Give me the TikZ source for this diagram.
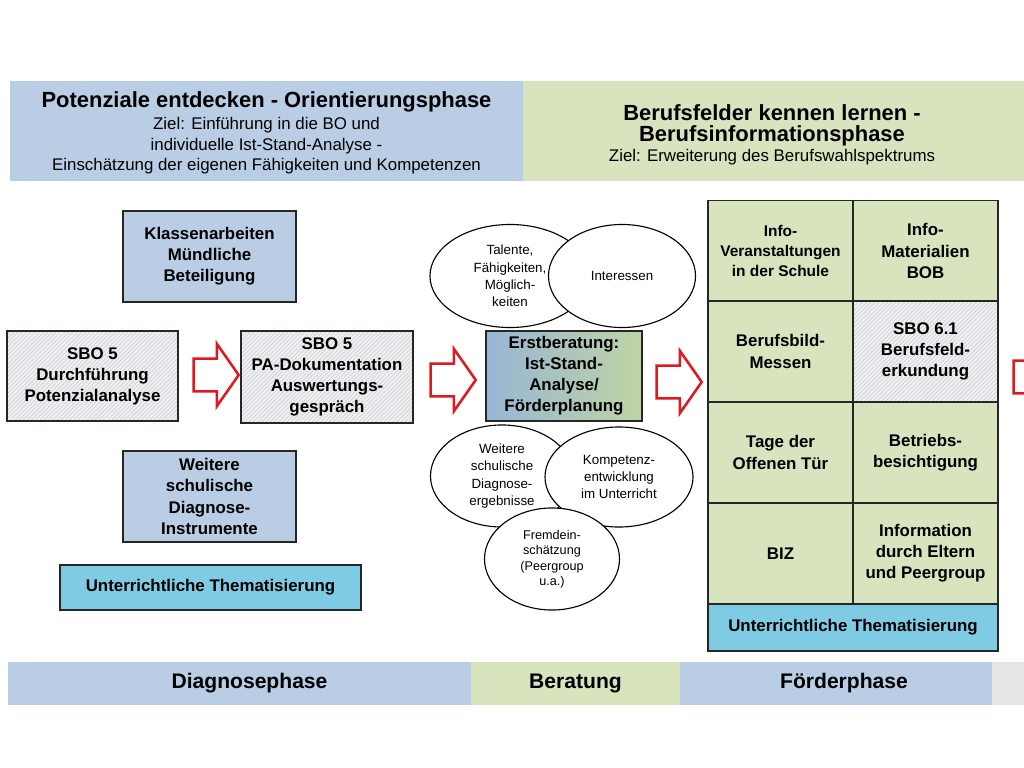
\documentclass[tikz,border=0pt]{standalone}
\usepackage{fontspec}
\setmainfont{Liberation Sans}
\usepackage{xcolor}
\usetikzlibrary{positioning,shapes.geometric,shapes.arrows,patterns}
\definecolor{phaseblue}{HTML}{B9CDE5}
\definecolor{phasegreen}{HTML}{D7E4BD}
\definecolor{skyblue}{HTML}{7FCBE4}
\definecolor{hatchbg}{HTML}{EEF1F4}
\definecolor{arrowred}{HTML}{E0181F}
\definecolor{lightbar}{HTML}{E6E6E6}
\definecolor{gradblue}{HTML}{98B5D5}
\definecolor{gradgreen}{HTML}{BFD4A5}
\newcommand{\bigbf}{\bfseries\fontsize{15.6}{18}\selectfont}
\tikzset{
  box/.style     ={draw=black!85,line width=1pt,align=center,inner sep=2pt,
                   font=\bfseries\fontsize{12}{15}\selectfont},
  bluebox/.style ={box,fill=phaseblue},
  hatchbox/.style={box,preaction={fill=hatchbg},pattern=north east lines,pattern color=gray!40},
  thema/.style   ={box,fill=skyblue},
  cell/.style    ={box,fill=phasegreen,minimum width=3.625cm,minimum height=2.525cm},
  bubble/.style  ={ellipse,draw=black,line width=0.8pt,fill=white,align=center,inner sep=0pt,
                   font=\fontsize{9.5}{12.4}\selectfont},
  fatarrow/.style={single arrow,draw=arrowred,line width=1.8pt,fill=white,inner xsep=0pt,
                   inner ysep=0.375cm,single arrow head extend=0.375cm,single arrow tip angle=110,
                   minimum height=1.125cm},
  band/.style    ={inner sep=0pt,align=center,minimum height=1.075cm,
                   font=\bfseries\fontsize{15}{18}\selectfont},
}

\begin{document}
\begin{tikzpicture}[x=0.025cm,y=-0.025cm]
  \useasboundingbox[fill=white] (0,0) rectangle (1024,768);
  \clip (0,0) rectangle (1024,768);

  % phase headers
  \node[fill=phaseblue,minimum width=12.825cm,minimum height=2.5cm,inner sep=0pt] (hleft) at (266.5,131) {};
  \node[align=center,font=\fontsize{12}{13.5}\selectfont] (hlefttxt) at (266.5,133)
       {{\bigbf Potenziale entdecken - Orientierungsphase}\\[2pt]
        Ziel: Einführung in die BO und\\[1pt]individuelle Ist-Stand-Analyse -\\[1pt]
        Einschätzung der eigenen Fähigkeiten und Kompetenzen};
  \node[fill=phasegreen,minimum width=12.525cm,minimum height=2.5cm,inner sep=0pt] (hright) at (773.5,131) {};
  \node[align=center,font=\fontsize{12}{13.5}\selectfont] (hrighttxt) at (772,135)
       {{\bigbf Berufsfelder kennen lernen -}\\[1pt]{\bigbf Berufsinformationsphase}\\[1pt]
        Ziel: Erweiterung des Berufswahlspektrums};

  % diagnose column
  \node[bluebox,minimum width=4.325cm,minimum height=2.275cm] (klasse) at (209.5,256.5)
       {Klassenarbeiten\\Mündliche\\Beteiligung};
  \node[hatchbox,minimum width=4.275cm,minimum height=2.25cm] (sbo5) at (92.5,376)
       {SBO 5\\Durchführung\\Potenzialanalyse};
  \node[hatchbox,minimum width=4.3cm,minimum height=2.3cm] (padoku) at (327,377)
       {SBO 5\\PA-Dokumentation\\Auswertungs-\\gespräch};
  \node[bluebox,minimum width=4.325cm,minimum height=2.275cm] (weitere) at (209.5,496.5)
       {Weitere\\schulische\\Diagnose-\\Instrumente};
  \node[thema,minimum width=7.525cm,minimum height=1.125cm] (themaL) at (210.5,587.5)
       {Unterrichtliche Thematisierung};

  % beratung
  \node[bubble,minimum width=4cm,minimum height=2.575cm] (talente) at (510,276)
       {Talente,\\Fähigkeiten,\\Möglich-\\keiten};
  \node[bubble,minimum width=3.675cm,minimum height=2.575cm] (interessen) at (622,276)
       {Interessen};
  \node[box,left color=gradblue,right color=gradgreen,
        minimum width=3.9cm,minimum height=2.25cm] (erst) at (564,376)
       {Erstberatung:\\Ist-Stand-\\Analyse/\\Förderplanung};
  \node[bubble,minimum width=3.575cm,minimum height=2.55cm] (diagerg) at (502,476)
       {Weitere\\schulische\\Diagnose-\\ergebnisse};
  \node[bubble,minimum width=3.7cm,minimum height=2.5cm] (kompetenz) at (619,477)
       {Kompetenz-\\entwicklung\\im Unterricht};
  \node[bubble,minimum width=3.375cm,minimum height=2.55cm,font=\fontsize{9}{11}\selectfont] (fremd) at (552,559)
       {Fremdein-\\schätzung\\(Peergroup\\u.a.)};

  % red block arrows
  \node[fatarrow] (arrA) at (210.5,375) {};
  \node[fatarrow] (arrB) at (447.5,380) {};
  \node[fatarrow] (arrC) at (673.5,382) {};
  \node[fatarrow] (arrD) at (1030.5,377) {};

  % foerder grid
  \node[cell,font=\bfseries\fontsize{11}{14.5}\selectfont] (infoV) at (780.5,251)
       {Info-\\Veranstaltungen\\in der Schule};
  \node[cell] (infoM) at (925.5,251) {Info-\\Materialien\\BOB};
  \node[cell] (messen) at (780.5,351.5) {Berufsbild-\\Messen};
  \node[cell,preaction={fill=hatchbg},pattern=north east lines,pattern color=gray!40] (sbo61) at (925.5,351.5)
       {SBO 6.1\\Berufsfeld-\\erkundung};
  \node[cell] (offen) at (780.5,452.5) {Tage der\\Offenen Tür};
  \node[cell] (betrieb) at (925.5,452.5) {Betriebs-\\besichtigung};
  \node[cell] (biz) at (780.5,553.5) {BIZ};
  \node[cell] (eltern) at (925.5,553.5) {Information\\durch Eltern\\und Peergroup};
  \node[thema,minimum width=7.25cm,minimum height=1.175cm] (themaR) at (853,627.5)
       {Unterrichtliche Thematisierung};

  % phase band at the bottom
  \node[band,fill=phaseblue,minimum width=11.575cm] (diag) at (239.5,683.5) {};
  \node[band,fill=phasegreen,minimum width=5.225cm] (berat) at (575.5,683.5) {Beratung};
  \node[band,fill=phaseblue,minimum width=7.8cm] (foerd) at (836,683.5) {};
  \node[band,fill=lightbar,minimum width=0.8cm] (rest) at (1008,683.5) {};
  \node[band] (diagtxt) at (249.5,683.5) {Diagnosephase};
  \node[band] (foerdtxt) at (844,683.5) {Förderphase};
\end{tikzpicture}
\end{document}
